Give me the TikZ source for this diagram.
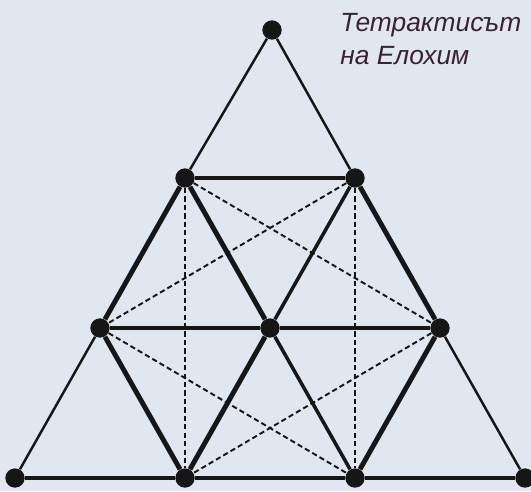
\documentclass[tikz,border=0pt]{standalone}
\usepackage{fontspec}
\setmainfont{Liberation Sans}
\usepackage{tikz}
\usetikzlibrary{backgrounds}
\definecolor{paperblue}{HTML}{E1E7F0}
\definecolor{inkblack}{HTML}{161616}
\definecolor{titleplum}{HTML}{3B2233}

\begin{document}
\begin{tikzpicture}[
    x=0.2mm, y=-0.2mm,
    dot/.style={circle, fill=inkblack, inner sep=0pt, minimum size=11pt},
    thin/.style={draw=inkblack, line width=1.4pt},
    mid/.style={draw=inkblack, line width=2pt},
    thick/.style={draw=inkblack, line width=2.8pt},
    dsh/.style={draw=inkblack, line width=1.1pt, dash pattern=on 3pt off 1.8pt},
    ttl/.style={font=\fontsize{15}{18.7}\selectfont\itshape, color=titleplum, align=left, anchor=north west, inner sep=0pt}
]
    \useasboundingbox (0,0) rectangle (531,491);

    % === points of the tetractys ===
    \node[dot] (a)  at (272,30)  {};
    \node[dot] (b1) at (185,178) {};
    \node[dot] (b2) at (355,178) {};
    \node[dot] (c1) at (100,328) {};
    \node[dot] (c2) at (270,328) {};
    \node[dot] (c3) at (440,328) {};
    \node[dot] (d1) at (15,478)  {};
    \node[dot] (d2) at (185,478) {};
    \node[dot] (d3) at (355,478) {};
    \node[dot] (d4) at (525,478) {};

    % === title ===
    \node[ttl] (title) at (340,13) {Тетрактисът\\на Елохим};

    \begin{scope}[on background layer]
        % --- paper ---
        \fill[paperblue] (0,0) rectangle (531,491);

        % --- outer triangle ---
        \draw[thin] (a) -- (b1);
        \draw[thin] (a) -- (b2);
        \draw[thin] (c1) -- (d1);
        \draw[thin] (c3) -- (d4);
        \draw[mid] (d1) -- (d2);
        \draw[mid] (d3) -- (d4);

        % --- hexagon ---
        \draw[thick] (b1) -- (b2);
        \draw[thick] (b2) -- (c3);
        \draw[thick] (c3) -- (d3);
        \draw[thick] (d3) -- (d2);
        \draw[thick] (d2) -- (c1);
        \draw[thick] (c1) -- (b1);

        % --- star through the centre ---
        \draw[thick] (b1) -- (c2);
        \draw[mid] (c2) -- (d3);
        \draw[mid] (b2) -- (c2);
        \draw[thick] (c2) -- (d2);
        \draw[mid] (c1) -- (c2);
        \draw[mid] (c2) -- (c3);

        % --- dashed diagonals ---
        \draw[dsh] (b1) -- (d2);
        \draw[dsh] (b2) -- (d3);
        \draw[dsh] (b1) -- (c3);
        \draw[dsh] (b2) -- (c1);
        \draw[dsh] (c1) -- (d3);
        \draw[dsh] (c3) -- (d2);
    \end{scope}
\end{tikzpicture}
\end{document}
